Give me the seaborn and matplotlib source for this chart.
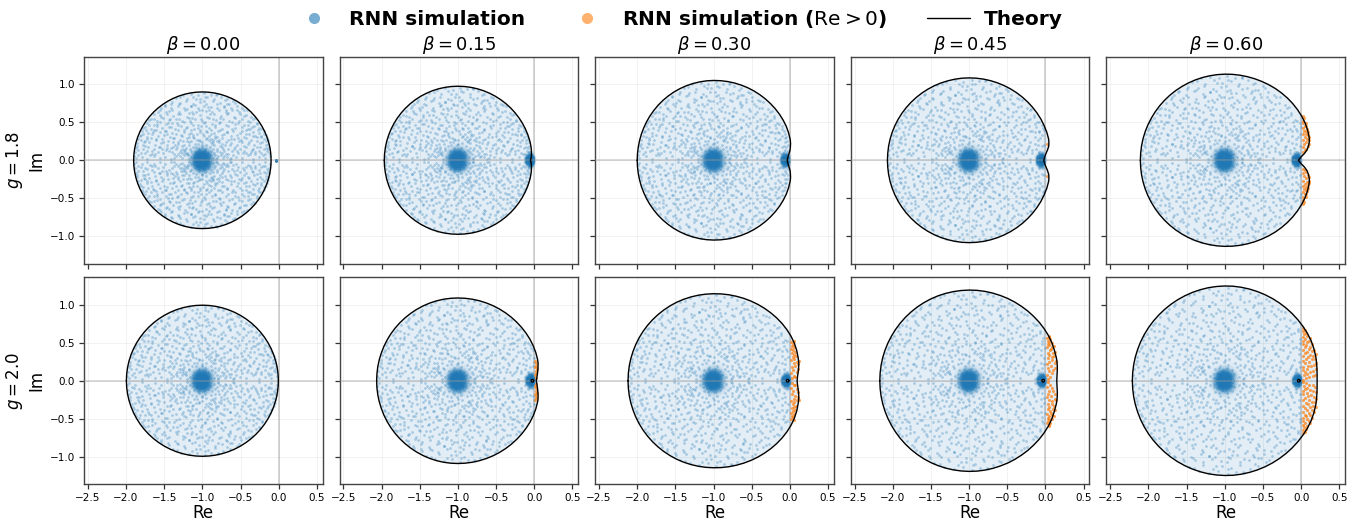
import numpy as np
import matplotlib
matplotlib.use('Agg')
import matplotlib.pyplot as plt
from matplotlib.colors import LinearSegmentedColormap
from matplotlib.lines import Line2D
import seaborn as sns

BETAS = [0.00, 0.15, 0.30, 0.45, 0.60]
GAINS = [1.8, 2.0]
X_TICKS = [-2.5, -2.0, -1.5, -1.0, -0.5, 0.0, 0.5]
Y_TICKS = [-1.0, -0.5, 0.0, 0.5, 1.0]

# theory boundary: radius around (-1, 0) at each angle (upper half)
ANGLES = [180, 175, 170, 165, 160, 155, 150, 145, 140, 135,
          130, 125, 120, 115, 110, 105, 100, 95, 90, 85,
          80, 75, 70, 65, 60, 55, 50, 45, 40, 35,
          30, 25, 20, 15, 12.5, 10, 7.5, 5, 2.5, 0]
TOP_INDEX = 18
RADII = {
    (1.8, 0.00): [.90] * 40,
    (1.8, 0.15): [.965, .965, .965, .966, .966, .967, .968, .969, .97, .971,
                  .972, .973, .974, .974, .975, .975, .975, .975, .975, .975,
                  .975, .975, .975, .975, .975, .975, .975, .975, .975, .975,
                  .975, .975, .975, .975, .974, .973, .97, .966, .96, .95],
    (1.8, 0.30): [1.0, 1.0, 1.001, 1.003, 1.006, 1.009, 1.013, 1.017, 1.021, 1.026,
                  1.03, 1.034, 1.038, 1.041, 1.044, 1.046, 1.048, 1.05, 1.051, 1.052,
                  1.053, 1.054, 1.054, 1.055, 1.055, 1.055, 1.055, 1.055, 1.055, 1.055,
                  1.054, 1.052, 1.047, 1.04, 1.033, 1.022, 1.01, .992, .975, .965],
    (1.8, 0.45): [1.07, 1.07, 1.071, 1.072, 1.073, 1.074, 1.075, 1.076, 1.077, 1.078,
                  1.079, 1.08, 1.081, 1.082, 1.083, 1.083, 1.084, 1.085, 1.085, 1.085,
                  1.085, 1.085, 1.085, 1.085, 1.085, 1.085, 1.085, 1.085, 1.085, 1.085,
                  1.085, 1.083, 1.082, 1.078, 1.07, 1.058, 1.035, 1.01, .99, .978],
    (1.8, 0.60): [1.105, 1.105, 1.106, 1.107, 1.108, 1.109, 1.11, 1.112, 1.114, 1.116,
                  1.118, 1.12, 1.122, 1.124, 1.126, 1.128, 1.13, 1.132, 1.134, 1.136,
                  1.138, 1.14, 1.143, 1.146, 1.15, 1.154, 1.157, 1.16, 1.162, 1.163,
                  1.163, 1.162, 1.156, 1.146, 1.135, 1.115, 1.09, 1.05, 1.0, .965],
    (2.0, 0.00): [.995] * 40,
    (2.0, 0.15): [1.065, 1.065, 1.066, 1.067, 1.068, 1.07, 1.072, 1.074, 1.076, 1.078,
                  1.08, 1.082, 1.084, 1.086, 1.088, 1.089, 1.09, 1.09, 1.09, 1.09,
                  1.09, 1.09, 1.09, 1.09, 1.09, 1.09, 1.09, 1.09, 1.09, 1.09,
                  1.09, 1.088, 1.085, 1.08, 1.075, 1.065, 1.055, 1.045, 1.035, 1.026],
    (2.0, 0.30): [1.12, 1.12, 1.121, 1.122, 1.123, 1.125, 1.127, 1.129, 1.131, 1.133,
                  1.135, 1.137, 1.139, 1.141, 1.142, 1.143, 1.144, 1.145, 1.146, 1.148,
                  1.15, 1.152, 1.155, 1.158, 1.161, 1.164, 1.167, 1.17, 1.172, 1.173,
                  1.172, 1.168, 1.16, 1.148, 1.142, 1.133, 1.122, 1.11, 1.1, 1.095],
    (2.0, 0.45): [1.17, 1.17, 1.171, 1.172, 1.173, 1.174, 1.175, 1.177, 1.179, 1.181,
                  1.183, 1.185, 1.187, 1.189, 1.19, 1.191, 1.192, 1.193, 1.194, 1.195,
                  1.195, 1.195, 1.195, 1.196, 1.196, 1.196, 1.197, 1.197, 1.198, 1.198,
                  1.197, 1.194, 1.187, 1.182, 1.178, 1.172, 1.165, 1.157, 1.151, 1.148],
    (2.0, 0.60): [1.21, 1.21, 1.211, 1.212, 1.213, 1.215, 1.217, 1.219, 1.221, 1.223,
                  1.226, 1.229, 1.232, 1.235, 1.238, 1.241, 1.244, 1.246, 1.248, 1.25,
                  1.25, 1.25, 1.25, 1.25, 1.25, 1.25, 1.25, 1.25, 1.25, 1.25,
                  1.25, 1.248, 1.242, 1.234, 1.229, 1.223, 1.218, 1.214, 1.211, 1.21],
}

# small theory ring next to the origin (g = 2.0 panels)
RING_RE = {0.15: -.025, 0.30: -.03, 0.45: -.03, 0.60: -.03}
RING_DX = [.018, .013, 0, -.013, -.018, -.013, 0, .013, .018]
RING_DY = [0, .013, .018, .013, 0, -.013, -.018, -.013, 0]

# eigenvalue cloud, offsets from the bulk centre on the unit disk, upper half only
CLOUD = np.array([
    (-.97, .03), (-.88, .05), (-.80, .02), (-.71, .06), (-.62, .03), (-.55, .05), (-.46, .02), (-.38, .06), (-.30, .04), (-.21, .07), (.21, .03), (.31, .06), (.40, .02), (.49, .05), (.57, .03), (.66, .07), (.74, .02), (.83, .05), (.91, .03), (.98, .06),
    (-.98, .12), (-.90, .10), (-.81, .13), (-.73, .09), (-.65, .12), (-.57, .10), (-.49, .14), (-.41, .09), (-.33, .12), (-.25, .10), (.26, .12), (.35, .09), (.43, .13), (.52, .10), (.60, .14), (.69, .09), (.77, .12), (.86, .10), (.94, .13),
    (-.96, .18), (-.87, .16), (-.79, .20), (-.70, .17), (-.62, .19), (-.53, .15), (-.45, .18), (-.37, .20), (-.28, .16), (.29, .19), (.38, .16), (.47, .20), (.55, .17), (.63, .19), (.72, .15), (.80, .20), (.89, .17), (.97, .19),
    (-.95, .25), (-.86, .22), (-.78, .26), (-.69, .23), (-.60, .25), (-.52, .22), (-.43, .26), (-.35, .24), (-.26, .22), (.24, .26), (.33, .23), (.41, .25), (.50, .22), (.58, .26), (.67, .24), (.75, .22), (.84, .25), (.93, .23),
    (-.93, .31), (-.84, .28), (-.75, .32), (-.67, .29), (-.58, .31), (-.50, .28), (-.41, .32), (-.33, .30), (-.23, .28), (-.12, .32), (.05, .31), (.16, .29), (.28, .32), (.37, .29), (.46, .31), (.54, .28), (.63, .32), (.71, .30), (.80, .28), (.89, .31), (.95, .29),
    (-.90, .37), (-.81, .34), (-.73, .38), (-.64, .35), (-.56, .37), (-.47, .34), (-.38, .38), (-.29, .36), (-.19, .34), (-.08, .38), (.10, .36), (.21, .34), (.32, .38), (.42, .35), (.51, .37), (.60, .34), (.68, .38), (.77, .36), (.86, .34), (.92, .37),
    (-.88, .43), (-.79, .40), (-.70, .44), (-.62, .41), (-.53, .43), (-.44, .40), (-.35, .44), (-.26, .42), (-.16, .40), (-.04, .44), (.07, .42), (.17, .40), (.26, .44), (.36, .41), (.45, .43), (.55, .40), (.64, .44), (.73, .42), (.82, .40), (.89, .43),
    (-.84, .49), (-.75, .46), (-.66, .50), (-.58, .47), (-.49, .49), (-.40, .46), (-.31, .50), (-.22, .48), (-.12, .46), (-.02, .50), (.09, .47), (.19, .49), (.29, .46), (.38, .50), (.48, .47), (.57, .49), (.66, .46), (.75, .50), (.83, .47),
    (-.80, .55), (-.71, .52), (-.62, .56), (-.53, .53), (-.44, .55), (-.35, .52), (-.26, .56), (-.16, .54), (-.06, .52), (.04, .56), (.14, .53), (.24, .55), (.34, .52), (.43, .56), (.52, .54), (.61, .52), (.70, .56), (.79, .53),
    (-.75, .61), (-.66, .58), (-.57, .62), (-.48, .59), (-.39, .61), (-.30, .58), (-.20, .62), (-.10, .60), (.00, .58), (.10, .62), (.20, .59), (.30, .61), (.39, .58), (.48, .62), (.57, .60), (.66, .58), (.74, .61),
    (-.70, .67), (-.60, .64), (-.51, .68), (-.42, .65), (-.32, .67), (-.23, .64), (-.13, .68), (-.03, .66), (.07, .64), (.17, .68), (.27, .65), (.36, .67), (.46, .64), (.55, .68), (.64, .66), (.71, .64),
    (-.62, .73), (-.53, .70), (-.44, .74), (-.34, .71), (-.25, .73), (-.15, .70), (-.05, .74), (.05, .72), (.14, .70), (.24, .74), (.34, .71), (.43, .73), (.53, .70), (.61, .74),
    (-.55, .79), (-.46, .76), (-.36, .80), (-.26, .77), (-.17, .79), (-.07, .76), (.03, .80), (.13, .78), (.22, .76), (.32, .80), (.42, .77), (.51, .79), (.58, .76),
    (-.44, .85), (-.34, .82), (-.24, .86), (-.14, .83), (-.04, .85), (.06, .82), (.16, .86), (.26, .84), (.36, .82), (.45, .86),
    (-.33, .92), (-.23, .89), (-.13, .93), (-.03, .90), (.07, .92), (.17, .89), (.27, .93), (.36, .90),
    (-.17, .97), (-.07, .95), (.03, .98), (.12, .96), (.21, .97),
    (-.93, .08), (-.84, .21), (-.76, .07), (-.68, .31), (-.59, .16), (-.51, .39), (-.44, .12), (-.36, .27), (-.27, .44), (-.18, .58), (-.09, .71), (.02, .86), (.11, .67), (.19, .51), (.28, .24), (.36, .42), (.44, .07), (.52, .33), (.61, .21), (.69, .46), (.77, .09), (.85, .36), (.92, .18), (.97, .11),
    (-.89, .29), (-.82, .45), (-.74, .14), (-.66, .53), (-.57, .27), (-.49, .72), (-.42, .33), (-.34, .61), (-.25, .15), (-.17, .79), (-.06, .47), (.04, .93), (.12, .26), (.21, .83), (.29, .37), (.37, .69), (.46, .16), (.54, .58), (.63, .38), (.71, .12), (.79, .55), (.87, .27), (.94, .33),
    (-.95, .21), (-.86, .39), (-.77, .52), (-.69, .09), (-.61, .66), (-.52, .18), (-.45, .83), (-.37, .54), (-.29, .11), (-.20, .69), (-.11, .24), (-.02, .61), (.08, .78), (.16, .17), (.25, .62), (.33, .88), (.41, .31), (.50, .74), (.59, .11), (.67, .52), (.74, .35), (.82, .14), (.90, .39), (.96, .24),
    (-.91, .35), (-.83, .11), (-.72, .42), (-.64, .71), (-.55, .43), (-.47, .61), (-.39, .91), (-.31, .37), (-.23, .75), (-.14, .52), (-.05, .29), (.03, .54), (.13, .44), (.20, .96), (.30, .16), (.39, .82), (.47, .53), (.56, .29), (.65, .73), (.73, .17), (.81, .44), (.88, .08), (.93, .28),
    (-.99, .06), (-.87, .47), (-.80, .31), (-.71, .60), (-.63, .19), (-.54, .81), (-.46, .49), (-.40, .23), (-.32, .84), (-.24, .47), (-.15, .62), (-.09, .90), (.01, .39), (.09, .74), (.18, .33), (.26, .56), (.35, .73), (.43, .46), (.51, .14), (.60, .65), (.68, .26), (.76, .62), (.84, .19), (.91, .09),
    (-.94, .15), (-.85, .26), (-.78, .59), (-.67, .45), (-.60, .76), (-.50, .55), (-.43, .20), (-.35, .68), (-.28, .95), (-.19, .39), (-.10, .81), (-.01, .74), (.06, .50), (.15, .60), (.23, .43), (.31, .78), (.40, .22), (.48, .84), (.57, .43), (.64, .10), (.72, .49), (.80, .34), (.86, .46), (.95, .16),
    # denser ring around the bulk centre
    (-.20, .02), (-.16, .05), (-.12, .03), (-.08, .08), (-.22, .11), (-.17, .14), (-.11, .12), (-.05, .16), (.02, .13), (.08, .11), (.13, .14), (.19, .08), (.15, .04), (.23, .06),
    (-.24, .18), (-.19, .22), (-.13, .19), (-.07, .24), (-.01, .20), (.05, .23), (.11, .19), (.17, .23), (.22, .17), (-.16, .28), (-.08, .30), (.00, .27), (.09, .29), (.15, .27),
    (-.27, .07), (-.31, .15), (-.35, .09), (.27, .07), (.32, .13), (.36, .05), (-.22, .33), (.03, .35), (.24, .30), (-.13, .37), (.13, .38), (-.03, .41),
    (-.33, .06), (-.28, .28), (-.23, .09), (-.18, .16), (-.14, .34), (-.09, .20), (-.04, .28), (-.02, .10), (.04, .17), (.07, .33), (.10, .07), (.14, .24), (.18, .36), (.21, .14), (.25, .21), (.30, .04), (.34, .27), (-.26, .13), (-.20, .26), (-.12, .07), (-.06, .13), (.00, .22), (.06, .06), (.12, .31), (.17, .11), (.20, .02), (.28, .10), (-.38, .17), (.38, .09), (-.41, .03), (.42, .03), (-.16, .44), (.06, .43), (-.30, .21), (.22, .28),
])
CLOUD_RE = CLOUD[:, 0]
CLOUD_IM = CLOUD[:, 1]

# dark core at the bulk centre, and the small cluster near the origin
CORE_DX = [-.10, -.07, -.04, -.01, .03, .06, .10, -.08, -.05, -.02, .01, .05, .08, -.05, -.01, .03, .06, -.03, .02, .00, -.14, .14, -.11, .11]
CORE_DY = [.01, .03, .02, .04, .01, .03, .02, .07, .06, .08, .05, .07, .06, .10, .11, .10, .12, .14, .15, .02, .04, .05, .10, .09]
HALO_RE = {(1.8, 0.15): -.045, (1.8, 0.30): -.05, (1.8, 0.45): -.05, (1.8, 0.60): -.05,
           (2.0, 0.15): -.04, (2.0, 0.30): -.04, (2.0, 0.45): -.04, (2.0, 0.60): -.04}
HALO_DX = [-.05, -.03, -.01, .01, .03, -.04, -.02, .00, .02, -.02, .01, -.06, .04, .00]
HALO_DY = [.01, .02, .01, .03, .01, .05, .06, .05, .05, .09, .08, .03, .03, .00]

# eigenvalues with positive real part, upper half only
ORANGE_RE = {
    (1.8, 0.45): [.018],
    (1.8, 0.60): [.02, .05, .03, .07, .04, .09, .06, .10, .03, .08, .05, .10, .02, .07, .09, .11, .04, .06, .09, .03, .08, .05, .07, .02, .06, .03, .04, .02],
    (2.0, 0.15): [.02, .015, .025, .02, .03, .015, .025, .02, .015],
    (2.0, 0.30): [.03, .05, .07, .02, .09, .04, .10, .03, .07, .11, .05, .09, .02, .06, .12, .04, .08, .05, .03, .07, .04, .02, .06, .03, .04, .02, .05],
    (2.0, 0.45): [.03, .06, .02, .08, .05, .10, .03, .12, .07, .02, .13, .05, .09, .14, .03, .08, .11, .05, .03, .10, .06, .13, .07, .02, .09, .05, .11, .03, .08, .04, .03, .06, .02, .05, .05],
    (2.0, 0.60): [.03, .07, .11, .04, .15, .08, .18, .05, .12, .02, .16, .08, .19, .03, .13, .09, .17, .05, .20, .11, .03, .14, .06, .18, .09, .03, .16, .12, .05, .19, .08, .14, .03, .10, .17, .05, .12, .07, .03, .14, .08, .02, .11, .05, .12, .03, .08, .04, .07, .02, .05, .03],
}
ORANGE_IM = {
    (1.8, 0.45): [.21],
    (1.8, 0.60): [.11, .13, .17, .15, .21, .19, .24, .22, .27, .28, .31, .30, .34, .35, .33, .27, .38, .39, .37, .42, .41, .45, .45, .49, .49, .52, .55, .58],
    (2.0, 0.15): [.04, .07, .10, .13, .16, .18, .20, .23, .26],
    (2.0, 0.30): [.03, .06, .05, .10, .11, .14, .15, .18, .20, .22, .24, .25, .27, .28, .26, .31, .33, .34, .36, .38, .40, .42, .44, .46, .48, .51, .52],
    (2.0, 0.45): [.02, .05, .08, .10, .13, .14, .17, .17, .20, .22, .24, .25, .27, .26, .30, .31, .33, .34, .37, .37, .40, .38, .42, .44, .45, .47, .46, .49, .50, .51, .53, .55, .56, .58, .59],
    (2.0, 0.60): [.01, .03, .05, .07, .06, .09, .08, .11, .12, .14, .13, .16, .15, .18, .19, .20, .21, .23, .24, .25, .26, .28, .29, .28, .31, .33, .33, .34, .36, .35, .38, .39, .41, .42, .41, .45, .45, .47, .49, .49, .51, .53, .53, .55, .56, .58, .59, .61, .63, .65, .67, .69],
}

CORE_CMAP = LinearSegmentedColormap.from_list('core', [(.12, .47, .71, 0.0), (.12, .47, .71, 0.08), (.12, .47, .71, 0.2), (.12, .47, .71, 0.42), (.12, .47, .71, 0.72), (.13, .47, .71, 1.0)])
HALO_CMAP = LinearSegmentedColormap.from_list('halo', [(.12, .47, .71, 0.0), (.12, .47, .71, 0.25), (.12, .47, .71, 0.65), (.10, .42, .65, 1.0)])

sns.set_style('ticks')
plt.rcParams['font.family'] = ['DejaVu Sans']
plt.rcParams['mathtext.fontset'] = 'dejavusans'
plt.rcParams['text.color'] = 'black'
plt.rcParams['axes.labelcolor'] = 'black'

fig, axes = plt.subplots(2, 5, figsize=(13.6, 5.2), dpi=100, sharex=True, sharey=True)
fig.subplots_adjust(left=84 / 1360, right=1345 / 1360, top=1 - 57 / 520, bottom=1 - 484 / 520,
                    wspace=17 / 239, hspace=14 / 207)

angles = np.radians(ANGLES)

for i, g in enumerate(GAINS):
    for j, beta in enumerate(BETAS):
        ax = axes[i, j]
        ax.axhline(0, color='#999999', lw=1.3, alpha=0.4, zorder=4)
        ax.axvline(0, color='#999999', lw=1.3, alpha=0.45, zorder=1)

        radii = np.array(RADII[(g, beta)])
        re_up = -1 + radii * np.cos(angles)
        im_up = radii * np.sin(angles)
        curve_re = np.concatenate([re_up, re_up[::-1][1:]])
        curve_im = np.concatenate([im_up, -im_up[::-1][1:]])
        ax.fill(curve_re, curve_im, color='#1f77b4', alpha=0.13, lw=0, zorder=1)

        # shared cloud stretched to this panel's left and top radius
        pts_re = -1 + CLOUD_RE * radii[0]
        pts_im = CLOUD_IM * radii[TOP_INDEX]
        keep = pts_re < -0.005
        sns.scatterplot(x=np.concatenate([pts_re[keep], pts_re[keep]]),
                        y=np.concatenate([pts_im[keep], -pts_im[keep]]),
                        ax=ax, color='#1f77b4', s=4, alpha=0.3, linewidth=0, zorder=2)

        core_x = np.array(CORE_DX + CORE_DX) - 1
        core_y = np.array(CORE_DY + [-v for v in CORE_DY])
        sns.kdeplot(x=core_x, y=core_y, ax=ax, fill=True, levels=30, thresh=0.004,
                    cmap=CORE_CMAP, bw_adjust=1.25, zorder=3)

        if (g, beta) in HALO_RE:
            halo_x = np.array(HALO_DX + HALO_DX) + HALO_RE[(g, beta)]
            halo_y = np.array(HALO_DY + [-v for v in HALO_DY])
            sns.kdeplot(x=halo_x, y=halo_y, ax=ax, fill=True, levels=20, thresh=0.01,
                        cmap=HALO_CMAP, zorder=3)
        if (g, beta) == (1.8, 0.00):
            sns.scatterplot(x=[-.035, -.03, -.04], y=[0, .005, -.005], ax=ax, color='#1f77b4',
                            s=4, linewidth=0, zorder=3)

        if (g, beta) in ORANGE_RE:
            or_re = np.array(ORANGE_RE[(g, beta)])
            or_im = np.array(ORANGE_IM[(g, beta)])
            sns.scatterplot(x=np.concatenate([or_re, or_re]), y=np.concatenate([or_im, -or_im]),
                            ax=ax, color='#ff7f0e', s=5, alpha=0.7, linewidth=0, zorder=5)

        sns.lineplot(x=curve_re, y=curve_im, ax=ax, color='black', lw=1.0, sort=False,
                     estimator=None, zorder=6)
        if g == 2.0 and beta in RING_RE:
            sns.lineplot(x=np.array(RING_DX) + RING_RE[beta], y=RING_DY, ax=ax, color='black',
                         lw=0.9, sort=False, estimator=None, zorder=6)

        ax.set_xlim(-2.55, 0.575)
        ax.set_ylim(-1.36, 1.36)
        ax.set_xticks(X_TICKS)
        ax.set_yticks(Y_TICKS)
        ax.grid(True, color='#cccccc', lw=0.7, alpha=0.25)
        ax.set_axisbelow(True)
        ax.tick_params(labelsize=7.5, length=3.5, width=0.9, color='#333333', labelcolor='black', pad=3)
        for spine in ax.spines.values():
            spine.set_visible(True)
            spine.set_color('#444444')
            spine.set_linewidth(1.0)
        ax.set_xlabel('Re' if i == 1 else '', fontsize=12, labelpad=0.5)
        ax.set_ylabel(f'$g = {g:.1f}$\nIm' if j == 0 else '', fontsize=12, labelpad=3)
        if i == 0:
            ax.set_title(f'$\\beta = {beta:.2f}$', fontsize=13, pad=5)

handles = [
    Line2D([], [], marker='o', ls='', color='#1f77b4', alpha=0.6, ms=8, mew=0),
    Line2D([], [], marker='o', ls='', color='#ff7f0e', alpha=0.6, ms=8, mew=0),
    Line2D([], [], color='black', lw=1.0),
]
labels = ['RNN simulation', 'RNN simulation ($\\mathrm{Re} > 0$)', 'Theory']
fig.legend(handles, labels, loc='upper center', bbox_to_anchor=(0.4983, 1.02), ncol=3, frameon=False,
           prop={'weight': 'bold', 'size': 14.5}, columnspacing=2.0, handletextpad=0.7, handlelength=2.1)

fig.savefig('out.png', dpi=100)
plt.close(fig)
